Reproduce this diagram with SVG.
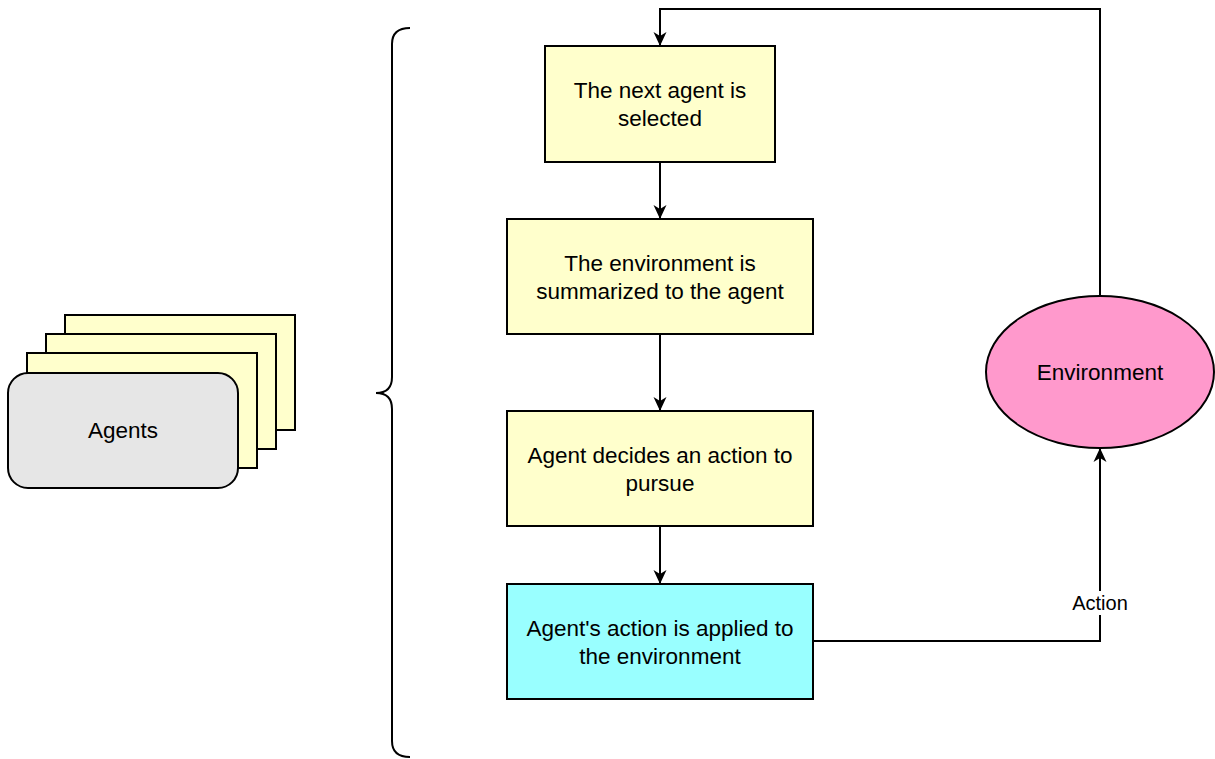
<svg xmlns="http://www.w3.org/2000/svg" width="1215" height="759" viewBox="0 0 1215 759">
<defs>
<style>
.box{stroke:#000;stroke-width:2}
.y{fill:#FFFFCC}
.t{font-family:"Liberation Sans",Arial,sans-serif;font-size:22.5px;fill:#000;text-anchor:middle;dominant-baseline:central}
.edge{fill:none;stroke:#000;stroke-width:2}
.lbl{font-family:"Liberation Sans",Arial,sans-serif;font-size:20px;fill:#000;text-anchor:middle;dominant-baseline:central}
</style>
<marker id="arr" viewBox="0 0 14 14" refX="13" refY="7" markerWidth="14" markerHeight="14" markerUnits="userSpaceOnUse" orient="auto">
<path d="M0,0.5 L14,7 L0,13.5 L4,7 Z" fill="#000"/>
</marker>
</defs>
<rect width="1215" height="759" fill="#fff"/>
<g id="agents">
<rect class="box y" x="65" y="315" width="230" height="115"/>
<rect class="box y" x="46" y="334" width="230" height="115"/>
<rect class="box y" x="27" y="353" width="230" height="115"/>
<rect class="box" x="8" y="373" width="230" height="115" rx="20" fill="#E6E6E6"/>
<text class="t" x="123" y="430">Agents</text>
</g>
<g id="brace">
<path class="edge" d="M410,28 Q392,28 392,44 L392,377 Q392,393 376,393 Q392,393 392,409 L392,741 Q392,757 410,757"/>
</g>
<g id="n1">
<rect class="box y" x="545" y="46" width="230" height="116"/>
<text class="t" x="660" y="90">The next agent is</text>
<text class="t" x="660" y="118">selected</text>
</g>
<g id="n2">
<rect class="box y" x="507" y="219" width="306" height="115"/>
<text class="t" x="660" y="263">The environment is</text>
<text class="t" x="660" y="291">summarized to the agent</text>
</g>
<g id="n3">
<rect class="box y" x="507" y="411" width="306" height="115"/>
<text class="t" x="660" y="455">Agent decides an action to</text>
<text class="t" x="660" y="483">pursue</text>
</g>
<g id="n4">
<rect class="box" x="507" y="584" width="306" height="115" fill="#99FFFF"/>
<text class="t" x="660" y="628">Agent's action is applied to</text>
<text class="t" x="660" y="656">the environment</text>
</g>
<g id="env">
<ellipse class="box" cx="1100" cy="372" rx="114" ry="76" fill="#FF99CC"/>
<text class="t" x="1100" y="372">Environment</text>
</g>
<g id="connectors">
<path class="edge" d="M660,162 L660,218" marker-end="url(#arr)"/>
<path class="edge" d="M660,334 L660,410" marker-end="url(#arr)"/>
<path class="edge" d="M660,526 L660,583" marker-end="url(#arr)"/>
<path class="edge" d="M1100,296 L1100,9 L660,9 L660,45" marker-end="url(#arr)"/>
<path class="edge" d="M813,641 L1100,641 L1100,449" marker-end="url(#arr)"/>
<rect x="1068" y="591" width="64" height="24" fill="#fff"/>
<text class="lbl" x="1100" y="603">Action</text>
</g>
</svg>
